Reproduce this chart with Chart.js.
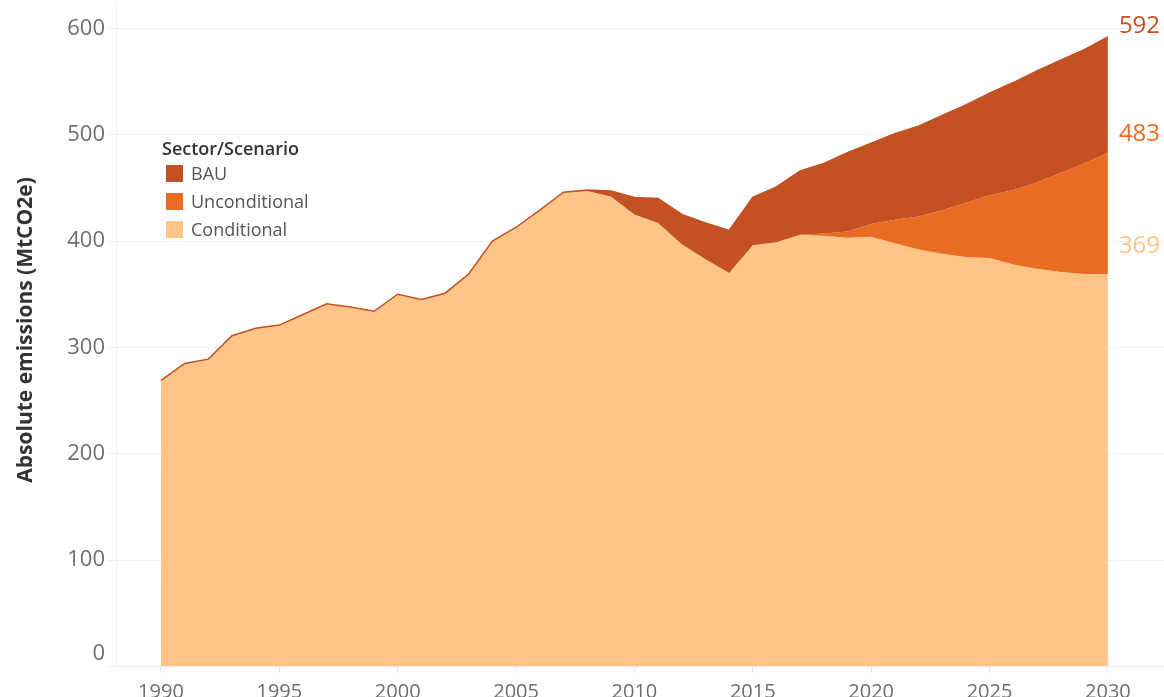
<!DOCTYPE html>
<html>
<head>
<meta charset="utf-8">
<script src="https://cdn.jsdelivr.net/npm/chart.js@4/dist/chart.umd.min.js"></script>
<style>
  body { margin: 0; background: #fff; font-family: "Open Sans", sans-serif; }
  #wrap { position: relative; width: 1164px; height: 697px; overflow: hidden; }
  #legend { position: absolute; left: 162px; top: 136px; color: #555; font-size: 18px; }
  #legend .title { color: #333; font-weight: 600; height: 23px; line-height: 24px; }
  #legend .item { height: 28px; line-height: 28px; white-space: nowrap; }
  #legend .sw { display: inline-block; width: 17px; height: 17px; margin: 0 8px 0 4px; vertical-align: -2px; }
</style>
</head>
<body>
<div id="wrap">
  <canvas id="emissions" width="1164" height="697"></canvas>
  <div id="legend"></div>
</div>
<script>
const years = [1990, 1991, 1992, 1993, 1994, 1995, 1996, 1997, 1998, 1999,
               2000, 2001, 2002, 2003, 2004, 2005, 2006, 2007, 2008, 2009,
               2010, 2011, 2012, 2013, 2014, 2015, 2016, 2017, 2018, 2019,
               2020, 2021, 2022, 2023, 2024, 2025, 2026, 2027, 2028, 2029, 2030];

const conditional = [269, 285, 289, 311, 318, 321, 331, 341, 338, 334,
                     350, 345, 351, 369, 400, 413, 429, 446, 447, 442,
                     425, 417, 397, 383, 370, 396, 399, 406, 405, 403,
                     404, 398, 392, 388, 385, 384, 378, 374, 371, 369, 369];

const unconditional = [269, 285, 289, 311, 318, 321, 331, 341, 338, 334,
                       350, 345, 351, 369, 400, 413, 429, 446, 447, 442,
                       425, 417, 397, 383, 370, 396, 399, 406, 407, 409,
                       416, 420, 423, 429, 436, 443, 448, 455, 464, 473, 483];

const bau = [269, 285, 289, 311, 318, 321, 331, 341, 338, 334,
             350, 345, 351, 369, 400, 413, 429, 446, 448, 447,
             441, 440, 425, 417, 410, 441, 451, 466, 473, 483,
             492, 501, 508, 518, 528, 539, 549, 560, 570, 580, 592];

const scenarioNames = ['BAU', 'Unconditional', 'Conditional'];
const scenarioColors = ['#c45122', '#e96c22', '#fec587'];
const yTicks = [0, 100, 200, 300, 400, 500, 600];
const xTicks = [1990, 1995, 2000, 2005, 2010, 2015, 2020, 2025, 2030];

function toPoints(values) {
    return values.map((v, i) => ({ x: years[i], y: v }));
}

// last value of each band, written just right of 2030
const endLabels = {
    id: 'endLabels',
    afterDatasetsDraw(chart) {
        const ctx = chart.ctx;
        const xs = chart.scales.x, ys = chart.scales.y;
        ctx.save();
        ctx.font = '24px "Open Sans"';
        ctx.textAlign = 'left';
        ctx.textBaseline = 'middle';
        chart.data.datasets.forEach(ds => {
            const last = ds.data[ds.data.length - 1];
            ctx.fillStyle = ds.labelColor;
            ctx.fillText(String(last.y), xs.getPixelForValue(last.x) + 11, ys.getPixelForValue(last.y) + ds.labelDy);
        });
        ctx.restore();
    }
};

const yTitle = {
    id: 'yTitle',
    afterDraw(chart) {
        const ctx = chart.ctx;
        ctx.save();
        ctx.translate(26, 330);
        ctx.rotate(-Math.PI / 2);
        ctx.font = 'bold 21px "Open Sans"';
        ctx.fillStyle = '#333';
        ctx.textAlign = 'center';
        ctx.textBaseline = 'middle';
        ctx.fillText('Absolute emissions (MtCO2e)', 0, 0);
        ctx.restore();
    }
};

document.addEventListener('DOMContentLoaded', function() {
    const ctx = document.getElementById('emissions').getContext('2d');
    new Chart(ctx, {
        type: 'line',
        data: {
            datasets: [{
                label: scenarioNames[0],
                data: toPoints(bau),
                backgroundColor: scenarioColors[0],
                borderColor: scenarioColors[0],
                borderWidth: 1.5,
                fill: 1,
                labelColor: scenarioColors[0],
                labelDy: -11
            }, {
                label: scenarioNames[1],
                data: toPoints(unconditional),
                backgroundColor: scenarioColors[1],
                borderWidth: 0,
                fill: 2,
                labelColor: scenarioColors[1],
                labelDy: -19
            }, {
                label: scenarioNames[2],
                data: toPoints(conditional),
                backgroundColor: scenarioColors[2],
                borderWidth: 0,
                fill: 'origin',
                labelColor: scenarioColors[2],
                labelDy: -28
            }]
        },
        options: {
            responsive: false,
            animation: false,
            layout: { padding: { top: 5, right: 0, left: 0, bottom: 0 } },
            elements: { point: { radius: 0 }, line: { tension: 0 } },
            plugins: {
                legend: { display: false },
                tooltip: { enabled: false }
            },
            scales: {
                x: {
                    type: 'linear',
                    min: 1988.1,
                    max: 2032.37,
                    afterFit(scale) { scale.height = 30.4; scale.paddingLeft = 0; scale.paddingRight = 0; },
                    afterBuildTicks(scale) { scale.ticks = xTicks.map(v => ({ value: v })); },
                    grid: { drawOnChartArea: false, drawTicks: true, tickLength: 6, color: '#e8e8e8' },
                    border: { color: '#eeeeee' },
                    ticks: {
                        padding: 8,
                        color: '#6e6e6e',
                        font: { family: 'Open Sans', size: 20 },
                        callback: v => String(v)
                    }
                },
                y: {
                    min: 0,
                    max: 621.9,
                    afterFit(scale) { scale.width = 116; scale.paddingTop = 0; scale.paddingBottom = 0; },
                    afterBuildTicks(scale) { scale.ticks = yTicks.map(v => ({ value: v })); },
                    grid: { color: '#f0f0f0', tickLength: 8 },
                    border: { color: '#f3f3f3' },
                    ticks: {
                        padding: 3,
                        color: '#6e6e6e',
                        font: { family: 'Open Sans', size: 22 },
                        // the bottom label sits above its line, as in the original
                        callback: v => v === 0 ? ['0', ''] : String(v)
                    }
                }
            }
        },
        plugins: [endLabels, yTitle]
    });

    const legend = document.getElementById('legend');
    let html = '<div class="title">Sector/Scenario</div>';
    scenarioNames.forEach((name, i) => {
        html += '<div class="item"><span class="sw" style="background:' + scenarioColors[i] + '"></span>' + name + '</div>';
    });
    legend.innerHTML = html;
});
</script>
</body>
</html>
